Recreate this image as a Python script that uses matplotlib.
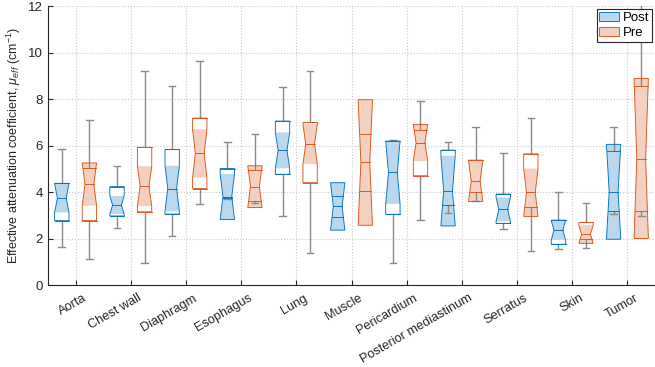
import matplotlib
matplotlib.use('Agg')
import matplotlib.pyplot as plt
import matplotlib.transforms as mtransforms
from matplotlib.patches import Polygon, Patch

plt.rcParams['font.family'] = ['Liberation Sans', 'DejaVu Sans']
plt.rcParams['mathtext.fontset'] = 'custom'
plt.rcParams['mathtext.it'] = 'Liberation Sans:italic'
plt.rcParams['mathtext.rm'] = 'Liberation Sans'

categories = ['Aorta', 'Chest wall', 'Diaphragm', 'Esophagus', 'Lung', 'Muscle',
              'Pericardium', 'Posterior mediastinum', 'Serratus', 'Skin', 'Tumor']

# Post
post_lo = [1.62, 2.45, 2.09, 3.70, 2.95, 2.91, 0.93, 3.08, 2.39, 1.53, 3.04]
post_q1 = [2.77, 2.97, 3.05, 3.75, 4.76, 2.91, 3.04, 3.44, 2.65, 1.75, 3.18]
post_med = [3.74, 3.44, 4.15, 3.80, 5.79, 3.38, 4.84, 4.05, 3.25, 2.36, 4.01]
post_q3 = [4.37, 4.23, 5.83, 5.01, 7.05, 3.84, 6.19, 5.80, 3.91, 2.79, 5.77]
post_hi = [5.83, 5.11, 8.58, 6.17, 8.52, 3.84, 6.23, 6.13, 5.66, 4.01, 6.81]
post_notch = [0.62, 0.39, 0.98, 0.98, 0.77, 1.02, 1.35, 1.51, 0.52, 0.42, 2.04]

# Pre
pre_lo = [1.10, 0.93, 3.48, 3.51, 1.36, 4.05, 2.79, 3.60, 1.45, 1.58, 2.97]
pre_q1 = [2.77, 3.15, 4.15, 3.60, 4.40, 4.05, 4.70, 4.01, 3.34, 1.96, 3.18]
pre_med = [4.33, 4.25, 5.66, 4.23, 6.06, 5.27, 6.12, 4.47, 3.98, 2.18, 5.44]
pre_q3 = [5.04, 5.92, 7.18, 4.94, 6.99, 6.49, 6.66, 5.37, 5.64, 2.69, 8.55]
pre_hi = [7.09, 9.21, 9.64, 6.48, 9.21, 6.49, 7.92, 6.78, 7.18, 3.51, 13.0]
pre_notch = [0.92, 0.86, 1.04, 0.90, 0.86, 2.70, 0.79, 0.88, 1.03, 0.39, 3.44]

blue = '#0072BD'
orange = '#D95319'
wcol = '#8a8a8a'

fig = plt.figure(figsize=(6.55, 3.67), dpi=100)
ax = fig.add_axes([0.0733, 0.2234, 0.9267, 0.7602])

W = 0.26      # box width
OFF = 0.25    # group offset
D = 0.05      # notch depth
CAP = 0.06
LW = 0.65


def half_width(y, lo, med, hi):
    # half width of the notched outline at height y
    h = W / 2
    if lo <= y <= med and med > lo:
        return h - D * (y - lo) / (med - lo)
    if med <= y <= hi and hi > med:
        return h - D * (hi - y) / (hi - med)
    return h


def draw_box(x, lo, q1, med, q3, hi, notch, color):
    nlo, nhi = med - notch, med + notch
    bot, top = min(q1, nlo), max(q3, nhi)
    l, r = x - W / 2, x + W / 2
    outline = [(l, bot), (l, nlo), (l + D, med), (l, nhi), (l, top),
               (r, top), (r, nhi), (r - D, med), (r, nlo), (r, bot)]
    ax.add_patch(Polygon(outline, closed=True, facecolor='white', edgecolor='none', zorder=2))
    ax.add_patch(Polygon([(l, nlo), (l + D, med), (l, nhi), (r, nhi), (r - D, med), (r, nlo)],
                         closed=True, facecolor=color, alpha=0.27, edgecolor='none', zorder=3))
    # whiskers
    if hi > q3:
        ax.plot([x, x], [q3, hi], color=wcol, lw=1.0, zorder=4, solid_capstyle='butt')
        ax.plot([x - CAP, x + CAP], [hi, hi], color=wcol, lw=1.0, zorder=4)
    if lo < q1:
        ax.plot([x, x], [q1, lo], color=wcol, lw=1.0, zorder=4, solid_capstyle='butt')
        ax.plot([x - CAP, x + CAP], [lo, lo], color=wcol, lw=1.0, zorder=4)
    ax.add_patch(Polygon(outline, closed=True, facecolor='none', edgecolor=color, lw=LW, zorder=5))
    for y in (q1, q3, med):
        hw = half_width(y, nlo, med, nhi)
        ax.plot([x - hw, x + hw], [y, y], color=color, lw=LW, zorder=5)


for i in range(len(categories)):
    xc = i + 1
    draw_box(xc - OFF, post_lo[i], post_q1[i], post_med[i], post_q3[i], post_hi[i], post_notch[i], blue)
    draw_box(xc + OFF, pre_lo[i], pre_q1[i], pre_med[i], pre_q3[i], pre_hi[i], pre_notch[i], orange)

ax.set_xlim(0.5, 11.5)
ax.set_ylim(0, 12)
ticks = list(range(1, len(categories) + 1))
ax.set_xticks(ticks)
ax.set_xticklabels([])
# rotated category labels, anchored at their top-right corner just right of each tick
trans = ax.get_xaxis_transform() + mtransforms.ScaledTranslation(7 / 100, -7 / 100, fig.dpi_scale_trans)
for t, name in zip(ticks, categories):
    ax.text(t, 0, name, transform=trans, rotation=30, rotation_mode='anchor',
            ha='right', va='top', fontsize=9.2, color='#262626', clip_on=False)

ax.set_yticks(range(0, 13, 2))
ax.tick_params(axis='y', labelsize=9.5)
ax.tick_params(direction='in', length=3.5, color='#262626', labelcolor='#262626', width=0.8)
ax.grid(True, linestyle=':', color='#c8c8c8', lw=0.8)
ax.set_axisbelow(True)
for s in ('top', 'right'):
    ax.spines[s].set_visible(False)
for s in ('left', 'bottom'):
    ax.spines[s].set_color('#262626')
    ax.spines[s].set_linewidth(0.8)

ax.set_ylabel(r'Effective attenuation coefficient, $\mu_{eff}$ (cm$^{-1}$)', fontsize=9, color='#262626', labelpad=4)

handles = [Patch(facecolor=(0, 0.447, 0.741, 0.27), edgecolor=blue, lw=LW, label='Post'),
           Patch(facecolor=(0.85, 0.325, 0.098, 0.27), edgecolor=orange, lw=LW, label='Pre')]
leg = ax.legend(handles=handles, loc='upper right', fontsize=9.5, frameon=True, fancybox=False,
                borderaxespad=0.25, handlelength=1.5, handletextpad=0.25, borderpad=0.2,
                labelspacing=0.2, framealpha=1)
leg.get_frame().set_edgecolor('#262626')
leg.get_frame().set_linewidth(0.8)
leg.set_zorder(10)

fig.savefig('out.png', dpi=100)
